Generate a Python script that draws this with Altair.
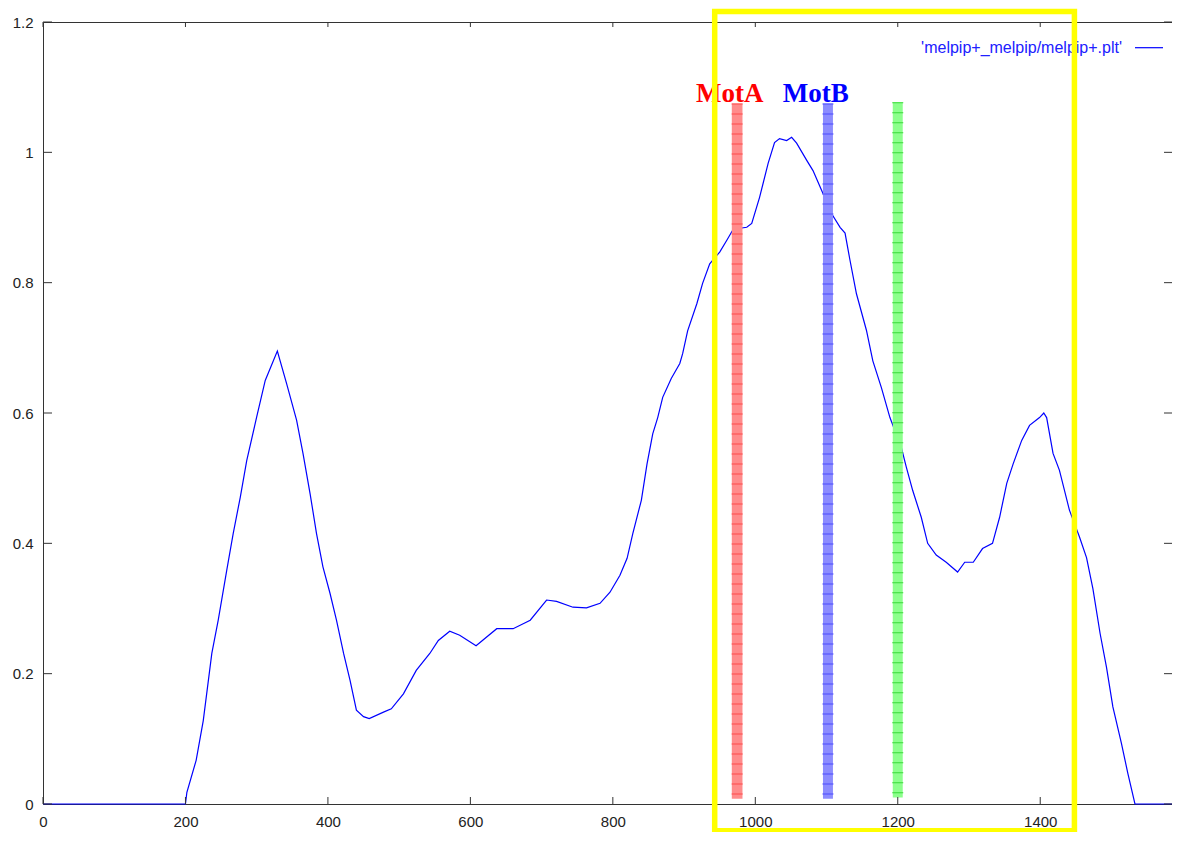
import altair as alt
import pandas as pd

# ---- curve ----
curve_x = [0, 200, 202, 215, 225, 237, 246, 258, 267, 277,
           286, 300, 312, 329, 342, 356, 365, 375, 384, 393,
           403, 412, 422, 431, 440, 450, 458, 478, 489, 506,
           524, 543, 555, 571, 585, 608, 637, 660, 684, 707,
           721, 744, 763, 782, 796, 810, 820, 828, 840, 848,
           856, 863, 870, 882, 894, 898, 905, 918, 926, 936,
           950, 960, 969, 988, 995, 1006, 1018, 1027, 1034, 1044,
           1051, 1058, 1072, 1081, 1095, 1107, 1119, 1126, 1133, 1142,
           1156, 1165, 1177, 1189, 1205, 1212, 1221, 1233, 1242, 1254,
           1268, 1284, 1294, 1306, 1319, 1333, 1343, 1353, 1362, 1374,
           1385, 1399, 1405, 1409, 1418, 1427, 1441, 1455, 1465, 1474,
           1484, 1493, 1502, 1514, 1523, 1533, 1585]
curve_y = [0, 0, 0.018, 0.067, 0.128, 0.231, 0.282, 0.359, 0.415, 0.471,
           0.527, 0.594, 0.650, 0.695, 0.645, 0.589, 0.538, 0.476, 0.415, 0.364,
           0.323, 0.282, 0.231, 0.190, 0.144, 0.134, 0.131, 0.141, 0.146, 0.169,
           0.205, 0.231, 0.251, 0.265, 0.259, 0.243, 0.269, 0.269, 0.282, 0.313,
           0.311, 0.302, 0.301, 0.308, 0.325, 0.351, 0.377, 0.415, 0.466, 0.522,
           0.568, 0.593, 0.624, 0.653, 0.676, 0.691, 0.726, 0.768, 0.799, 0.829,
           0.847, 0.865, 0.882, 0.885, 0.891, 0.931, 0.983, 1.015, 1.021, 1.018,
           1.023, 1.014, 0.988, 0.972, 0.937, 0.906, 0.885, 0.876, 0.834, 0.783,
           0.727, 0.680, 0.639, 0.593, 0.547, 0.517, 0.481, 0.440, 0.400, 0.382,
           0.371, 0.356, 0.371, 0.371, 0.392, 0.400, 0.440, 0.492, 0.522, 0.558,
           0.581, 0.593, 0.600, 0.593, 0.538, 0.512, 0.451, 0.410, 0.378, 0.330,
           0.262, 0.210, 0.149, 0.093, 0.047, 0, 0]

x_ticks = [0, 200, 400, 600, 800, 1000, 1200, 1400]
y_ticks = [0, 0.2, 0.4, 0.6, 0.8, 1.0, 1.2]
x_domain = [0, 1585]
y_domain = [0, 1.2]

legend_label = "'melpip+_melpip/melpip+.plt'"

# motif bands
motif_x0 = [967, 1095, 1193]
motif_x1 = [982, 1109, 1207]
motif_y0 = [0.008, 0.008, 0.010]
motif_y1 = [1.075, 1.075, 1.077]
motif_fill = ["#ff8c8c", "#8c8cff", "#8cff8c"]
motif_line = ["#ff4a4a", "#4a4aff", "#38dc38"]

# motif labels
label_text = ["MotA", "MotB"]
label_x = [964, 1085]
label_y = [1.077, 1.077]
label_color = ["#ff0000", "#0000ff"]

# highlight box
box_x = [943, 1448]
box_y = [-0.041, 1.216]

W, H = 1129, 782
FONT = "Liberation Sans"
AX = "#333333"

xs = alt.Scale(domain=x_domain, nice=False, zero=False)
ys = alt.Scale(domain=y_domain, nice=False)

x_axis = alt.Axis(values=x_ticks, title=None, grid=False, ticks=False, tickSize=0, domain=False,
                  labelPadding=10, labelFontSize=15, labelFont=FONT, labelColor="#222222",
                  labelFlush=False, labelOverlap=False, format="d")
y_axis = alt.Axis(values=y_ticks, title=None, grid=False, ticks=False, tickSize=0, domain=False,
                  labelPadding=10, labelFontSize=15, labelFont=FONT, labelColor="#222222",
                  labelOverlap=False, format=".1~f")

curve = pd.DataFrame({"x": curve_x, "y": curve_y})

line = alt.Chart(curve).mark_line(color="#0000ff", strokeWidth=1.2, clip=False).encode(
    x=alt.X("x:Q", scale=xs, axis=x_axis),
    y=alt.Y("y:Q", scale=ys, axis=y_axis),
)

tx = pd.DataFrame({"v": x_ticks})
ty = pd.DataFrame({"v": y_ticks})
tick_left = alt.Chart(ty).mark_rule(color=AX, strokeWidth=1).encode(
    y=alt.Y("v:Q", scale=ys, axis=y_axis), x=alt.value(0), x2=alt.value(9))
tick_right = alt.Chart(ty).mark_rule(color=AX, strokeWidth=1).encode(
    y=alt.Y("v:Q", scale=ys, axis=y_axis), x=alt.value(W - 8), x2=alt.value(W))
tick_bottom = alt.Chart(tx).mark_rule(color=AX, strokeWidth=1).encode(
    x=alt.X("v:Q", scale=xs, axis=x_axis), y=alt.value(H), y2=alt.value(H - 7))
tick_top = alt.Chart(tx).mark_rule(color=AX, strokeWidth=1).encode(
    x=alt.X("v:Q", scale=xs, axis=x_axis), y=alt.value(0), y2=alt.value(5))

motifs = pd.DataFrame({"x0": motif_x0, "x1": motif_x1, "y0": motif_y0, "y1": motif_y1,
                       "fill": motif_fill, "line": motif_line})
bands = alt.Chart(motifs).mark_rect(clip=False).encode(
    x=alt.X("x0:Q", scale=xs, axis=x_axis), x2="x1:Q",
    y=alt.Y("y0:Q", scale=ys, axis=y_axis), y2="y1:Q",
    color=alt.Color("fill:N", scale=None, legend=None))
stripes = alt.Chart(motifs).transform_calculate(xm="(datum.x0 + datum.x1) / 2").mark_rule(
    strokeWidth=11, strokeDash=[1, 9], clip=False).encode(
    x=alt.X("xm:Q", scale=xs, axis=x_axis),
    y=alt.Y("y1:Q", scale=ys, axis=y_axis), y2="y0:Q",
    color=alt.Color("line:N", scale=None, legend=None))

labels = pd.DataFrame({"t": label_text, "x": label_x, "y": label_y, "c": label_color})
mot_text = alt.Chart(labels).mark_text(font="Liberation Serif", fontSize=27, fontWeight="bold",
                                       baseline="alphabetic", align="center", clip=False).encode(
    x=alt.X("x:Q", scale=xs, axis=x_axis), y=alt.Y("y:Q", scale=ys, axis=y_axis), text="t:N",
    color=alt.Color("c:N", scale=None, legend=None))

box = alt.Chart(pd.DataFrame({"x0": [box_x[0]], "x1": [box_x[1]], "y0": [box_y[0]], "y1": [box_y[1]]})).mark_rect(
    filled=False, stroke="#ffff00", strokeWidth=5.5, clip=False).encode(
    x=alt.X("x0:Q", scale=xs, axis=x_axis), x2="x1:Q",
    y=alt.Y("y0:Q", scale=ys, axis=y_axis), y2="y1:Q")

leg_text = alt.Chart(pd.DataFrame({"t": [legend_label]})).mark_text(
    font=FONT, fontSize=16, color="#2020ff", align="right", baseline="middle").encode(
    x=alt.value(1079), y=alt.value(26), text="t:N")
leg_line = alt.Chart(pd.DataFrame({"t": [legend_label]})).mark_rule(color="#0000ff", strokeWidth=1.2).encode(
    x=alt.value(1092), x2=alt.value(1120), y=alt.value(25.7))

chart = alt.layer(
    line, bands, stripes, tick_left, tick_right, tick_bottom, tick_top,
    mot_text, leg_text, leg_line, box
).properties(
    width=W, height=H,
    padding={"left": 35, "top": 14, "right": 0, "bottom": 28},
    autosize=alt.AutoSizeParams(type="none"),
    background="white",
).configure_view(stroke=AX, strokeWidth=1)

chart.save("out.html", embed_options={"renderer": "svg", "actions": False})
